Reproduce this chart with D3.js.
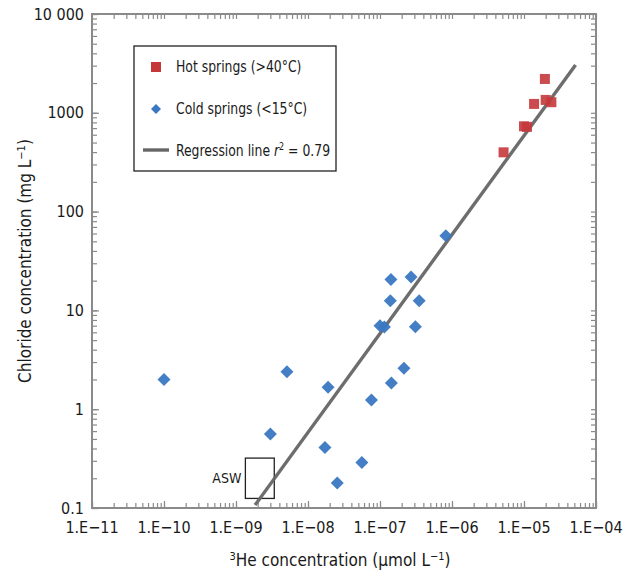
<!DOCTYPE html>
<html><head><meta charset="utf-8">
<script src="https://cdn.jsdelivr.net/npm/d3@7"></script>
<style>
body{margin:0;background:#fff;}
text{font-family:"Liberation Sans Narrow","DejaVu Sans Condensed","Arial Narrow",sans-serif;fill:#1a1a1a;}
</style></head>
<body><svg id="c" width="629" height="572"></svg>
<script>
const xTickValues = [1e-11,1e-10,1e-9,1e-8,1e-7,1e-6,1e-5,1e-4];
const xTickLabels = ["1.E\u221211","1.E\u221210","1.E\u221209","1.E\u221208","1.E\u221207","1.E\u221206","1.E\u221205","1.E\u221204"];
const yTickValues = [0.1,1,10,100,1000,10000];
const yTickLabels = ["0.1","1","10","100","1000","10 000"];

const hotHe = [1.95e-5, 1.38e-5, 2.0e-5, 2.4e-5, 1.0e-5, 1.1e-5, 5.2e-6];
const hotCl = [2200, 1230, 1350, 1280, 730, 720, 398];

const coldHe = [1e-10, 5.1e-9, 1.9e-8, 8.2e-7, 1.42e-7, 2.7e-7, 1.39e-7, 3.5e-7, 1.0e-7, 1.15e-7, 3.1e-7, 2.15e-7, 1.44e-7, 7.6e-8, 5.6e-8, 2.55e-8, 3.0e-9, 1.72e-8];
const coldCl = [2.0, 2.4, 1.67, 57, 20.6, 21.8, 12.5, 12.5, 7.0, 6.8, 6.85, 2.6, 1.84, 1.24, 0.288, 0.179, 0.56, 0.41];

const regHe = [1.84e-9, 5.2e-5];
const regCl = [0.107, 3050];

const aswHe = [1.35e-9, 3.4e-9];
const aswCl = [0.125, 0.32];

const legendLabels = ["Hot springs (>40\u00b0C)", "Cold springs (<15\u00b0C)", "Regression line "];

const svg = d3.select("#c");
const L=92, R=596, T=14, B=508;
const x = d3.scaleLog().domain([1e-11,1e-4]).range([L,R]);
const y = d3.scaleLog().domain([0.1,10000]).range([B,T]);

const axisCol = "#8a8a8a";
const xMinor = x.ticks();
const yMinor = y.ticks();

function styleAxis(g){
  g.select(".domain").remove();
  g.selectAll(".tick line").attr("stroke",axisCol).attr("stroke-width",1.2);
}
// minor ticks
svg.append("g").attr("transform",`translate(0,${B})`).call(d3.axisBottom(x).tickValues(xMinor).tickSize(-5).tickFormat("")).call(styleAxis);
svg.append("g").attr("transform",`translate(0,${T})`).call(d3.axisTop(x).tickValues(xMinor).tickSize(-5).tickFormat("")).call(styleAxis);
svg.append("g").attr("transform",`translate(${L},0)`).call(d3.axisLeft(y).tickValues(yMinor).tickSize(-5).tickFormat("")).call(styleAxis);
svg.append("g").attr("transform",`translate(${R},0)`).call(d3.axisRight(y).tickValues(yMinor).tickSize(-5).tickFormat("")).call(styleAxis);
// major ticks slightly longer
svg.append("g").attr("transform",`translate(0,${B})`).call(d3.axisBottom(x).tickValues(xTickValues).tickSize(-7).tickFormat("")).call(styleAxis);
svg.append("g").attr("transform",`translate(${L},0)`).call(d3.axisLeft(y).tickValues(yTickValues).tickSize(-7).tickFormat("")).call(styleAxis);

// frame
svg.append("rect").attr("x",L).attr("y",T).attr("width",R-L).attr("height",B-T)
  .attr("fill","none").attr("stroke",axisCol).attr("stroke-width",2);

// tick labels
svg.append("g").selectAll("text").data(xTickValues).join("text")
  .attr("x",d=>x(d)).attr("y",B+25).attr("text-anchor","middle")
  .attr("font-size",16).text((d,i)=>xTickLabels[i]);
svg.append("g").selectAll("text").data(yTickValues).join("text")
  .attr("x",L-8).attr("y",d=>y(d)).attr("dy","0.35em").attr("text-anchor","end")
  .attr("font-size",16).text((d,i)=>yTickLabels[i]);

// axis titles
const xt = svg.append("text").attr("x",340).attr("y",566).attr("text-anchor","middle").attr("font-size",17);
xt.append("tspan").attr("font-size",11).attr("dy",-6).text("3");
xt.append("tspan").attr("dy",6).text("He concentration (\u03bcmol L");
xt.append("tspan").attr("font-size",11).attr("dy",-6).text("\u22121");
xt.append("tspan").attr("dy",6).text(")");

const yt = svg.append("text").attr("transform",`translate(31,${(T+B)/2}) rotate(-90)`).attr("text-anchor","middle").attr("font-size",17);
yt.append("tspan").text("Chloride concentration (mg L");
yt.append("tspan").attr("font-size",11).attr("dy",-6).text("\u22121");
yt.append("tspan").attr("dy",6).text(")");

// ASW box
svg.append("rect").attr("x",x(aswHe[0])).attr("y",y(aswCl[1]))
  .attr("width",x(aswHe[1])-x(aswHe[0])).attr("height",y(aswCl[0])-y(aswCl[1]))
  .attr("fill","none").attr("stroke","#222").attr("stroke-width",1.3);
svg.append("text").attr("x",x(aswHe[0])-4).attr("y",y(Math.sqrt(aswCl[0]*aswCl[1]))).attr("dy","0.35em")
  .attr("text-anchor","end").attr("font-size",14).text("ASW");

// regression line
svg.append("line").attr("x1",x(regHe[0])).attr("y1",y(regCl[0])).attr("x2",x(regHe[1])).attr("y2",y(regCl[1]))
  .attr("stroke","#666").attr("stroke-width",3.4).attr("opacity",0.95);

const red="#c4383b", blue="#3a78c3";
// cold diamonds
svg.append("g").selectAll("path").data(coldHe.map((v,i)=>[v,coldCl[i]])).join("path")
  .attr("transform",d=>`translate(${x(d[0])},${y(d[1])})`)
  .attr("d","M0,-6.5L6.5,0L0,6.5L-6.5,0Z").attr("fill",blue).attr("opacity",0.95);
// hot squares
svg.append("g").selectAll("rect").data(hotHe.map((v,i)=>[v,hotCl[i]])).join("rect")
  .attr("x",d=>x(d[0])-5).attr("y",d=>y(d[1])-5).attr("width",10).attr("height",10)
  .attr("fill",red).attr("opacity",0.9);

// legend
const lg = svg.append("g");
lg.append("rect").attr("x",134).attr("y",46).attr("width",202).attr("height",125)
  .attr("fill","#fff").attr("stroke","#222").attr("stroke-width",1.3);
lg.append("rect").attr("x",151).attr("y",62).attr("width",10).attr("height",10).attr("fill",red);
lg.append("path").attr("transform","translate(156,109)").attr("d","M0,-5L5,0L0,5L-5,0Z").attr("fill",blue);
lg.append("line").attr("x1",143).attr("x2",169).attr("y1",150).attr("y2",150).attr("stroke","#666").attr("stroke-width",3.4);
lg.append("text").attr("transform","translate(176,67) scale(0.89,1)").attr("dy","0.35em").attr("font-size",15.5).text(legendLabels[0]);
lg.append("text").attr("transform","translate(176,109) scale(0.89,1)").attr("dy","0.35em").attr("font-size",15.5).text(legendLabels[1]);
const lt = lg.append("text").attr("transform","translate(176,151) scale(0.89,1)").attr("dy","0.35em").attr("font-size",15.5);
lt.append("tspan").text(legendLabels[2]);
lt.append("tspan").attr("font-style","italic").text("r");
lt.append("tspan").attr("font-size",10).attr("dy",-6).text("2");
lt.append("tspan").attr("dy",6).text(" = 0.79");
</script></body></html>
